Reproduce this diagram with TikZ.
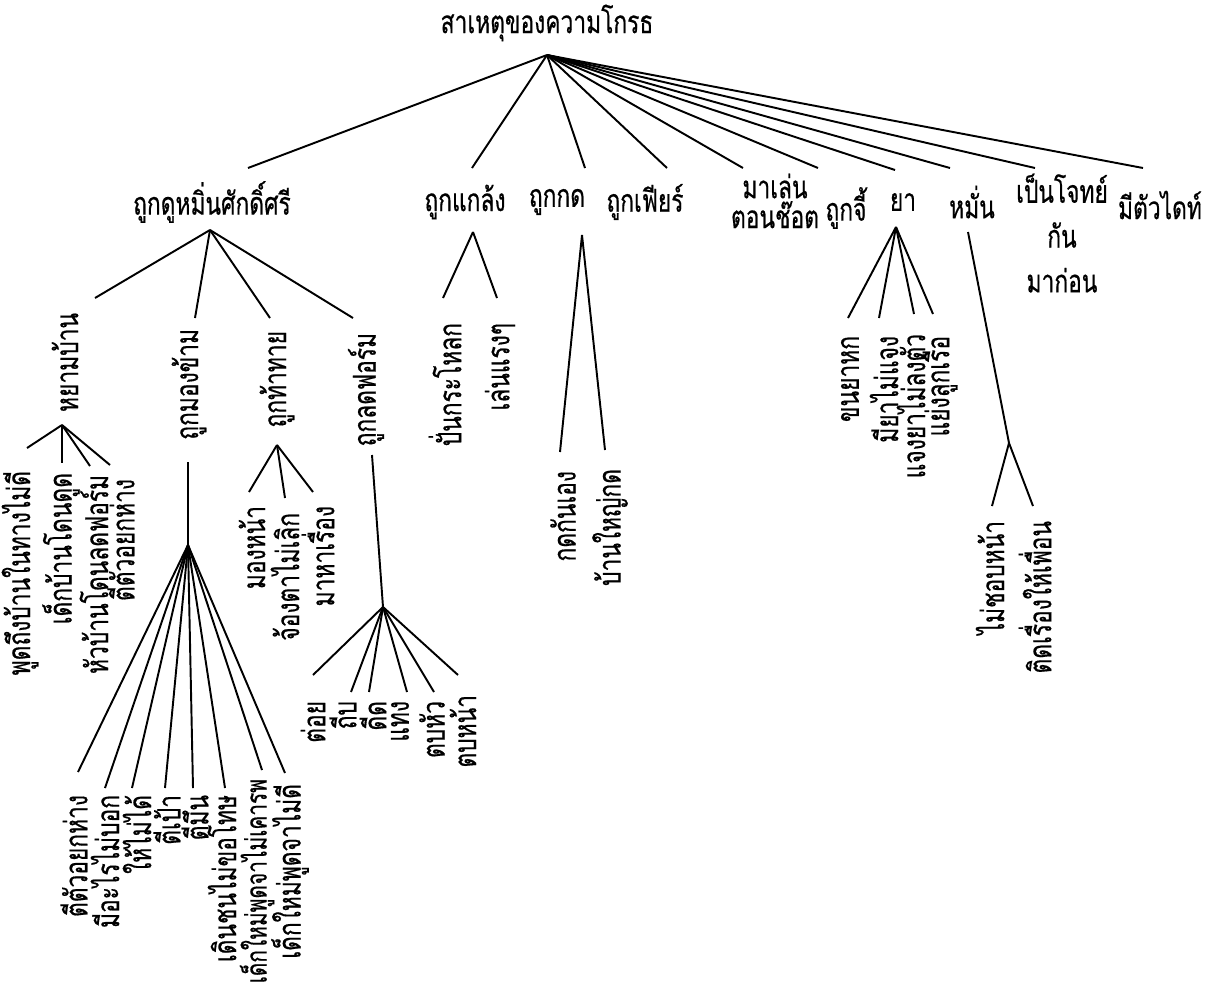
\documentclass[tikz,border=0pt]{standalone}
\usepackage{fontspec}
\newfontfamily\thai[Script=Thai,FakeStretch=0.72,FakeBold=0.5]{Loma}
\begin{document}
\begin{tikzpicture}[x=0.02cm,y=-0.02cm,line width=1.1pt,
  lab/.style={font=\thai\fontsize{18}{20}\selectfont,inner sep=0pt},
  vlab/.style={lab,rotate=90,anchor=east}]
\useasboundingbox (0,0) rectangle (1207,1001);
% title
\node[lab] (title) at (547,23) {สาเหตุของความโกรธ};
\coordinate (root) at (547,55);
% level 1
\node[lab] (n1) at (212,202) {ถูกดูหมิ่นศักดิ์ศรี};
\node[lab] (n2) at (465,202) {ถูกแกล้ง};
\node[lab] (n3) at (557,202) {ถูกกด};
\node[lab] (n4) at (645,202) {ถูกเฟียร์};
\node[lab,align=center,font=\thai\fontsize{18}{17}\selectfont] (n5) at (775,201) {มาเล่น\\ตอนช๊อต};
\node[lab] (n6) at (846,208) {ถูกจี้};
\node[lab] (n7) at (903,202) {ยา};
\node[lab] (n8) at (972,202) {หมั่น};
\node[lab,align=center,font=\thai\fontsize{18}{25.5}\selectfont] (n9) at (1062,233) {เป็นโจทย์\\กัน\\มาก่อน};
\node[lab] (n10) at (1160,205) {มีตัวไดท์};
\coordinate (e1) at (248,168);
\coordinate (e2) at (472,168);
\coordinate (e3) at (585,168);
\coordinate (e4) at (667,168);
\coordinate (e5) at (743,168);
\coordinate (e6) at (818,168);
\coordinate (e7) at (895,170);
\coordinate (e8) at (950,168);
\coordinate (e9) at (1035,168);
\coordinate (e10) at (1143,168);
\foreach \i in {1,...,10} \draw (root) -- (e\i);
% ---- n1 subtree
\coordinate (a1) at (210,230);
\node[vlab] (m1) at (65,312) {หยามบ้าน};
\node[vlab] (m2) at (189,328) {ถูกมองข้าม};
\node[vlab] (m3) at (277,330) {ถูกท้าทาย};
\node[vlab] (m4) at (366,332) {ถูกลดฟอร์ม};
\coordinate (f1) at (95,298);
\coordinate (f2) at (195,318);
\coordinate (f3) at (270,318);
\coordinate (f4) at (353,318);
\foreach \i in {1,...,4} \draw (a1) -- (f\i);
% หยามบ้าน
\coordinate (b1) at (62,425);
\node[vlab] (p1) at (20,470) {พูดถึงบ้านในทางไม่ดี};
\node[vlab] (p2) at (61,472) {เด็กบ้านโดนดูด};
\node[vlab] (p3) at (94,474) {หัวบ้านโดนลดฟอร์ม};
\node[vlab] (p4) at (121,478) {ตีตัวอยกห่าง};
\coordinate (g1) at (27,448);
\coordinate (g2) at (62,463);
\coordinate (g3) at (90,466);
\coordinate (g4) at (110,465);
\foreach \i in {1,...,4} \draw (b1) -- (g\i);
% ถูกมองข้าม
\coordinate (t2) at (188,462);
\coordinate (b2) at (188,545);
\draw (t2) -- (b2);
\node[vlab] (q1) at (74,794) {ตีตัวอยกห่าง};
\node[vlab] (q2) at (105,794) {มีอะไรไม่บอก};
\node[vlab] (q3) at (137,794) {ให้ไม่ได้};
\node[vlab] (q4) at (167,794) {ตีเป้า};
\node[vlab] (q5) at (195,794) {ตีมึน};
\node[vlab] (q6) at (222,794) {เดินชนไม่ขอโทษ};
\node[vlab,font=\thai\fontsize{16.5}{20}\selectfont] (q7) at (257,778) {เด็กใหม่พูดจาไม่เคารพ};
\node[vlab] (q8) at (290,783) {เด็กใหม่พูดจาไม่ดี};
\coordinate (h1) at (78,772);
\coordinate (h2) at (105,788);
\coordinate (h3) at (132,788);
\coordinate (h4) at (165,788);
\coordinate (h5) at (193,788);
\coordinate (h6) at (225,788);
\coordinate (h7) at (262,770);
\coordinate (h8) at (285,773);
\foreach \i in {1,...,8} \draw (b2) -- (h\i);
% ถูกท้าทาย
\coordinate (b3) at (277,445);
\node[vlab] (r1) at (252,505) {มองหน้า};
\node[vlab] (r2) at (285,512) {จ้องตาไม่เลิก};
\node[vlab] (r3) at (318,505) {มาหาเรื่อง};
\coordinate (i1) at (249,492);
\coordinate (i2) at (285,498);
\coordinate (i3) at (313,492);
\foreach \i in {1,...,3} \draw (b3) -- (i\i);
% ถูกลดฟอร์ม
\coordinate (t4) at (372,455);
\coordinate (b4) at (383,607);
\draw (t4) -- (b4);
\node[vlab] (s1) at (313,700) {ต่อย};
\node[vlab] (s2) at (343,700) {ถีบ};
\node[vlab] (s3) at (373,700) {ดีด};
\node[vlab] (s4) at (400,700) {แทง};
\node[vlab] (s5) at (432,700) {ตบหัว};
\node[vlab] (s6) at (463,694) {ตบหน้า};
\coordinate (j1) at (313,675);
\coordinate (j2) at (351,692);
\coordinate (j3) at (369,692);
\coordinate (j4) at (407,692);
\coordinate (j5) at (434,692);
\coordinate (j6) at (458,675);
\foreach \i in {1,...,6} \draw (b4) -- (j\i);
% ---- ถูกแกล้ง
\coordinate (a2) at (473,232);
\node[vlab] (u1) at (445,322) {ปั่นกระโหลก};
\node[vlab] (u2) at (500,322) {เล่นแรงๆ};
\coordinate (k1) at (443,298);
\coordinate (k2) at (497,298);
\draw (a2) -- (k1); \draw (a2) -- (k2);
% ---- ถูกกด
\coordinate (a3) at (582,235);
\node[vlab] (v1) at (563,470) {กดกันเอง};
\node[vlab] (v2) at (610,468) {บ้านใหญ่กด};
\coordinate (l1) at (560,452);
\coordinate (l2) at (605,450);
\draw (a3) -- (l1); \draw (a3) -- (l2);
% ---- ยา
\coordinate (a7) at (896,227);
\node[vlab] (w1) at (850,335) {ขนยาหก};
\node[vlab] (w2) at (884,335) {มียาไม่แจง};
\node[vlab] (w3) at (911,333) {แจงยาไม่ลงตัว};
\node[vlab] (w4) at (940,335) {แย่งลูกเรือ};
\coordinate (o1) at (848,318);
\coordinate (o2) at (879,318);
\coordinate (o3) at (914,314);
\coordinate (o4) at (933,314);
\foreach \i in {1,...,4} \draw (a7) -- (o\i);
% ---- หมั่น
\coordinate (t8) at (968,232);
\coordinate (a8) at (1009,443);
\draw (t8) -- (a8);
\node[vlab] (x1) at (990,520) {ไม่ชอบหน้า};
\node[vlab] (x2) at (1035,520) {ติดเรื่องให้เพื่อน};
\coordinate (c1) at (992,506);
\coordinate (c2) at (1033,506);
\draw (a8) -- (c1); \draw (a8) -- (c2);
\end{tikzpicture}
\end{document}
